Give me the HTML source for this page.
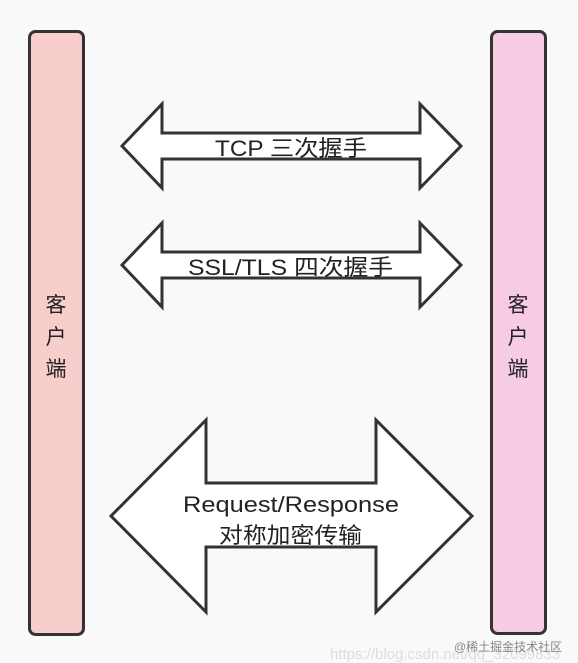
<!DOCTYPE html>
<html><head><meta charset="utf-8"><style>
html,body{margin:0;padding:0;background:#f9f9f9;}
svg{display:block}
text{font-family:"Liberation Sans","Noto Sans CJK SC",sans-serif;fill:#222;}
</style></head><body>
<svg width="578" height="663" viewBox="0 0 578 663">
<rect x="29.5" y="31.5" width="54" height="603" rx="6" fill="#f8cecc" stroke="#333" stroke-width="3"/>
<rect x="491.5" y="31.5" width="54" height="602" rx="6" fill="#f6cbe3" stroke="#333" stroke-width="3"/>
<g font-size="21" text-anchor="middle">
<text x="56" y="312">客</text><text x="56" y="344">户</text><text x="56" y="376">端</text>
<text x="518" y="312">客</text><text x="518" y="344">户</text><text x="518" y="376">端</text>
</g>
<g fill="#fff" stroke="#333" stroke-width="3" stroke-linejoin="miter">
<polygon points="122,146 162,104 162,133 420,133 420,104 461,146 420,188 420,159 162,159 162,188"/>
<polygon points="122,265 162,223 162,252 420,252 420,223 461,265 420,307 420,278 162,278 162,307"/>
<polygon points="111,516 206,420 206,483 376,483 376,420 472,516 376,612 376,547 206,547 206,612"/>
</g>
<g font-size="22">
<text x="215" y="156" textLength="152" lengthAdjust="spacingAndGlyphs">TCP 三次握手</text>
<text x="188" y="275" textLength="205" lengthAdjust="spacingAndGlyphs">SSL/TLS 四次握手</text>
<text x="183" y="512" textLength="216" lengthAdjust="spacingAndGlyphs">Request/Response</text>
<text x="219" y="543" textLength="143" lengthAdjust="spacingAndGlyphs">对称加密传输</text>
</g>
<text x="330" y="659" font-size="15" style="fill:#ddd">https://blog.csdn.net/qq_32099833</text>
<text x="454" y="651" font-size="12" style="fill:#888">@稀土掘金技术社区</text>
</svg>
</body></html>
